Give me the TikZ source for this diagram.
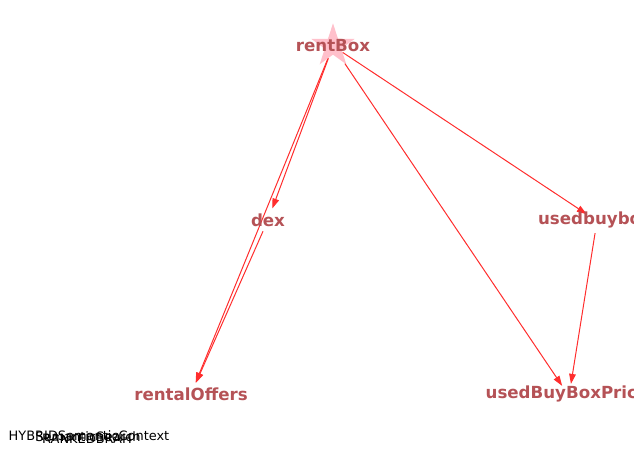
\documentclass[tikz,border=0pt]{standalone}
\usepackage{fontspec}
\setmainfont{DejaVu Sans}
\usetikzlibrary{arrows.meta,shapes.geometric,positioning}
\definecolor{lblred}{RGB}{181,82,86}
\definecolor{edgered}{RGB}{255,45,45}
\definecolor{starpink}{RGB}{255,192,203}
\tikzset{
  spot/.style={circle,minimum size=18pt,inner sep=0pt},
  lbl/.style={text=lblred,font=\fontsize{12.5}{14}\selectfont\bfseries,inner sep=0pt},
  iso/.style={text=black,font=\fontsize{9.7}{12}\selectfont,inner sep=0pt},
  edg/.style={draw=edgered,line width=0.75pt,-{Triangle[length=7.5pt,width=5pt]}}
}
\begin{document}
\begin{tikzpicture}[x=0.75pt,y=-0.75pt]
  \useasboundingbox (0,0) rectangle (642,470);
  \begin{scope}
    \clip (0,0) rectangle (633,470);
    % nodes
    \node(rb) at (333,46) [star,star points=5,star point ratio=2.618,minimum size=34pt,inner sep=0pt,fill=starpink,draw=none] {};
    \node(dx) at (268,220) [spot] {};
    \node(ub) at (597,221) [spot] {};
    \node(ro) at (191,394) [spot] {};
    \node(ubp) at (569,396) [spot] {};

    % edges
    \draw[edg] (rb) -- (dx);
    \draw[edg] (rb) -- (ro);
    \draw[edg] (dx) -- (ro);
    \draw[edg] (rb) -- (ub);
    \draw[edg] (rb) -- (ubp);
    \draw[edg] (ub) -- (ubp);

    % labels
    \node(rbt) at (333,46) [lbl] {rentBox};
    \node(dxt) at (dx.center) [lbl] {dex};
    \node(ubt) at (595,220) [lbl] {usedbuybox};
    \node(rot) at (ro.center) [lbl] {rentalOffers};
    \node(ubpt) at (567,394) [lbl] {usedBuyBoxPrice};

    % isolated ones, piled up
    \node(i1) at (89,436) [iso] {HYBRIDSemanticContext};
    \node(i2) at (87,439) [iso] {RANKEDBRAH};
    \node(i3) at (88,437) [iso] {SemanticSearch};
  \end{scope}
\end{tikzpicture}
\end{document}
